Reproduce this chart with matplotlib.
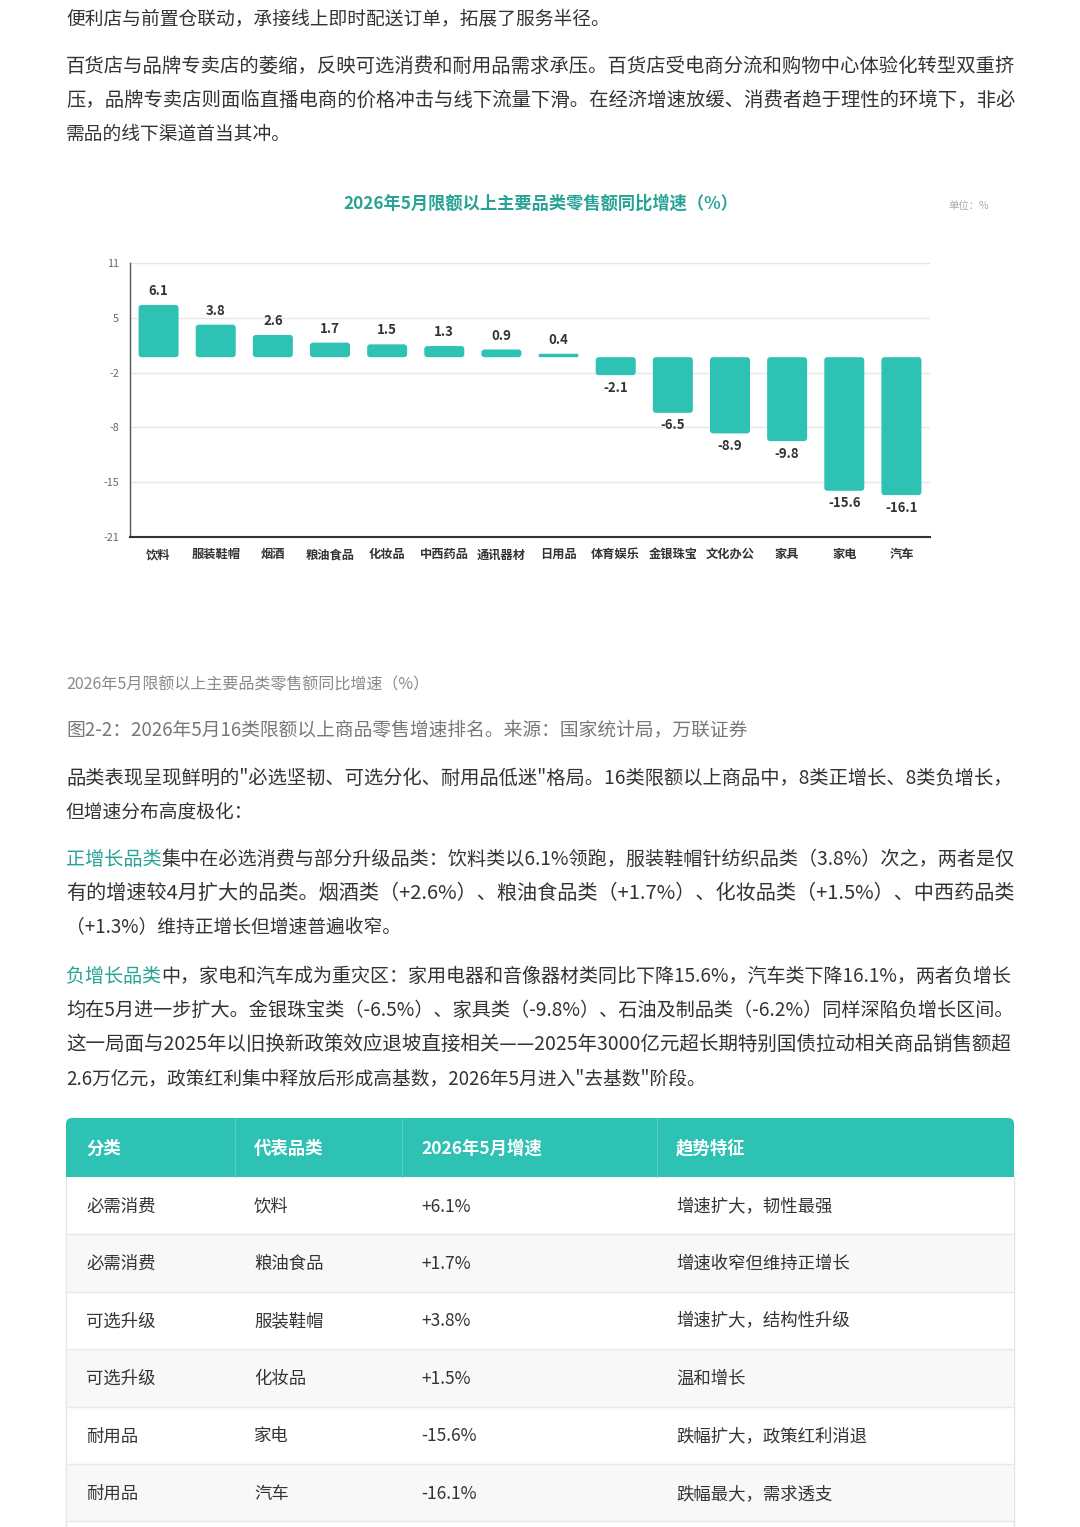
import matplotlib
matplotlib.use('Agg')
import matplotlib.pyplot as plt
import numpy as np
from matplotlib.patches import Rectangle, FancyBboxPatch

plt.rcParams['font.family'] = ['Noto Sans CJK SC', 'DejaVu Sans']

# ---------------- data ----------------
categories = ['饮料', '服装鞋帽', '烟酒', '粮油食品', '化妆品', '中西药品', '通讯器材',
              '日用品', '体育娱乐', '金银珠宝', '文化办公', '家具', '家电', '汽车']
values = [6.1, 3.8, 2.6, 1.7, 1.5, 1.3, 0.9, 0.4, -2.1, -6.5, -8.9, -9.8, -15.6, -16.1]
y_min, y_max = -21, 11

chart_title = '2026年5月限额以上主要品类零售额同比增速（%）'
unit_label = '单位：%'

tbl_header = ['分类', '代表品类', '2026年5月增速', '趋势特征']
tbl_class = ['必需消费', '必需消费', '可选升级', '可选升级', '耐用品', '耐用品']
tbl_item = ['饮料', '粮油食品', '服装鞋帽', '化妆品', '家电', '汽车']
tbl_growth = ['+6.1%', '+1.7%', '+3.8%', '+1.5%', '-15.6%', '-16.1%']
tbl_trend = ['增速扩大，韧性最强', '增速收窄但维持正增长', '增速扩大，结构性升级',
             '温和增长', '跌幅扩大，政策红利消退', '跌幅最大，需求透支']

TEAL = '#2EC2B4'
TEAL_TXT = '#27A396'
BODY = '#333333'

W, H = 1080, 1527
fig = plt.figure(figsize=(W / 100, H / 100), dpi=100)
fig.patch.set_facecolor('white')
page = fig.add_axes([0, 0, 1, 1])
page.set_xlim(0, W)
page.set_ylim(H, 0)
page.axis('off')
renderer = fig.canvas.get_renderer()


def line(y, parts, justify=False, size=13.5, x0=66, x1=1014, **kw):
    texts = [page.text(0, y, s, fontsize=size, color=c, va='center', ha='left', **kw)
             for s, c in parts]
    widths = [t.get_window_extent(renderer).width for t in texts]
    total = sum(widths)
    if justify and total > 0:
        f = min((x1 - x0) / total, 1.12)
        for t in texts:
            t.set_fontsize(size * f)
        widths = [t.get_window_extent(renderer).width for t in texts]
    x = x0
    for t, w in zip(texts, widths):
        t.set_x(x)
        x += w


# ---------------- body text (top) ----------------
line(18.5, [('便利店与前置仓联动，承接线上即时配送订单，拓展了服务半径。', BODY)])
line(66.5, [('百货店与品牌专卖店的萎缩，反映可选消费和耐用品需求承压。百货店受电商分流和购物中心体验化转型双重挤', BODY)], True)
line(100.5, [('压，品牌专卖店则面临直播电商的价格冲击与线下流量下滑。在经济增速放缓、消费者趋于理性的环境下，非必', BODY)], True)
line(134.5, [('需品的线下渠道首当其冲。', BODY)])

# ---------------- chart ----------------
page.text(541, 204, chart_title, ha='center', va='center', fontsize=12.4,
          fontweight='bold', color=TEAL_TXT)
page.text(948, 206, unit_label, ha='left', va='center', fontsize=7.5, color='#aaaaaa')

ax = fig.add_axes([130 / W, 1 - 537 / H, 800 / W, 274 / H])
x = np.arange(len(categories))
bars = ax.bar(x, values, width=0.7, color=TEAL, zorder=2)
ax.set_xlim(-0.5, len(categories) - 0.5)
ax.set_ylim(y_min, y_max)

# rounded corners for bars
px_x = 800 / len(categories)
px_y = 274 / (y_max - y_min)
for b in bars:
    bx, by, bw, bh = b.get_x(), b.get_y(), b.get_width(), b.get_height()
    y0 = min(by, by + bh)
    hh = abs(bh)
    r_px = min(3.0, hh * px_y / 2)
    p = FancyBboxPatch((bx, y0), bw, hh,
                       boxstyle=f'round,pad=0,rounding_size={r_px / px_x}',
                       mutation_aspect=px_x / px_y, fc=TEAL, ec='none', zorder=2)
    ax.add_patch(p)
    b.set_visible(False)

for i, v in enumerate(values):
    ax.annotate(f'{v}', (i, v), xytext=(0, 10 if v > 0 else -9),
                textcoords='offset points', ha='center', va='center',
                fontsize=9.5, fontweight='bold', color='#333333')

yt = np.linspace(y_min, y_max, 6)
ax.set_yticks(yt)
ax.set_yticklabels([f'{t:.0f}' for t in yt])
ax.set_xticks(x)
ax.set_xticklabels(categories, fontweight='bold')
ax.tick_params(axis='y', length=0, pad=8, labelsize=7.8, labelcolor='#666666')
ax.tick_params(axis='x', length=0, pad=8, labelsize=8.8, labelcolor='#333333')
ax.grid(axis='y', color='#e6e6e6', lw=1, zorder=0)
ax.set_axisbelow(True)
for s in ['top', 'right']:
    ax.spines[s].set_visible(False)
ax.spines['left'].set_color('#555555')
ax.spines['left'].set_linewidth(1)
ax.spines['bottom'].set_color('#333333')
ax.spines['bottom'].set_linewidth(1.5)

# ---------------- captions & paragraphs ----------------
line(684.5, [('2026年5月限额以上主要品类零售额同比增速（%）', '#8a8a8a')], size=11.5)
line(729.5, [('图2-2：2026年5月16类限额以上商品零售增速排名。来源：国家统计局，万联证券', '#777777')],
     size=13.5, style='italic')
line(778.5, [('品类表现呈现鲜明的"必选坚韧、可选分化、耐用品低迷"格局。16类限额以上商品中，8类正增长、8类负增长，', BODY)], True)
line(812.5, [('但增速分布高度极化：', BODY)])
line(859.5, [('正增长品类', TEAL_TXT), ('集中在必选消费与部分升级品类：饮料类以6.1%领跑，服装鞋帽针纺织品类（3.8%）次之，两者是仅', BODY)], True)
line(893.5, [('有的增速较4月扩大的品类。烟酒类（+2.6%）、粮油食品类（+1.7%）、化妆品类（+1.5%）、中西药品类', BODY)], True)
line(927.5, [('（+1.3%）维持正增长但增速普遍收窄。', BODY)])
line(976.5, [('负增长品类', TEAL_TXT), ('中，家电和汽车成为重灾区：家用电器和音像器材类同比下降15.6%，汽车类下降16.1%，两者负增长', BODY)], True)
line(1010.5, [('均在5月进一步扩大。金银珠宝类（-6.5%）、家具类（-9.8%）、石油及制品类（-6.2%）同样深陷负增长区间。', BODY)], True)
line(1044.5, [('这一局面与2025年以旧换新政策效应退坡直接相关——2025年3000亿元超长期特别国债拉动相关商品销售额超', BODY)], True)
line(1078.5, [('2.6万亿元，政策红利集中释放后形成高基数，2026年5月进入"去基数"阶段。', BODY)])

# ---------------- table ----------------
tx0, tx1 = 66, 1014
hdr_top, hdr_bot = 1118, 1177
row_h = 57.4
col_x = [86, 254, 421, 676]
dividers = [235, 402, 657]

# outer border
page.add_patch(Rectangle((tx0, hdr_bot), tx1 - tx0, H + 20 - hdr_bot, fc='white',
                         ec='#e4e4e4', lw=1, zorder=1))
rows = list(zip(tbl_class, tbl_item, tbl_growth, tbl_trend))
for i, r in enumerate(rows):
    y0 = hdr_bot + i * row_h
    fc = 'white' if i % 2 == 0 else '#f8f8f8'
    page.add_patch(Rectangle((tx0 + 0.5, y0), tx1 - tx0 - 1, row_h, fc=fc, ec='none', zorder=2))
    page.plot([tx0, tx1], [y0 + row_h, y0 + row_h], color='#e8e8e8', lw=1, zorder=3)
    for cx, s in zip(col_x, r):
        page.text(cx, y0 + row_h / 2 + 1, s, ha='left', va='center', fontsize=12.5,
                  color=BODY, zorder=4)

page.add_patch(FancyBboxPatch((tx0, hdr_top), tx1 - tx0, hdr_bot - hdr_top,
                              boxstyle='round,pad=0,rounding_size=6', fc=TEAL, ec='none', zorder=5))
page.add_patch(Rectangle((tx0, hdr_top + 10), tx1 - tx0, hdr_bot - hdr_top - 10,
                         fc=TEAL, ec='none', zorder=5))
for d in dividers:
    page.plot([d, d], [hdr_top, hdr_bot], color='#55cfc3', lw=0.8, zorder=6)
for cx, s in zip(col_x, tbl_header):
    page.text(cx, (hdr_top + hdr_bot) / 2 + 1, s, ha='left', va='center', fontsize=12.5,
              fontweight='bold', color='white', zorder=7)

fig.savefig('out.png', dpi=100, facecolor='white')
